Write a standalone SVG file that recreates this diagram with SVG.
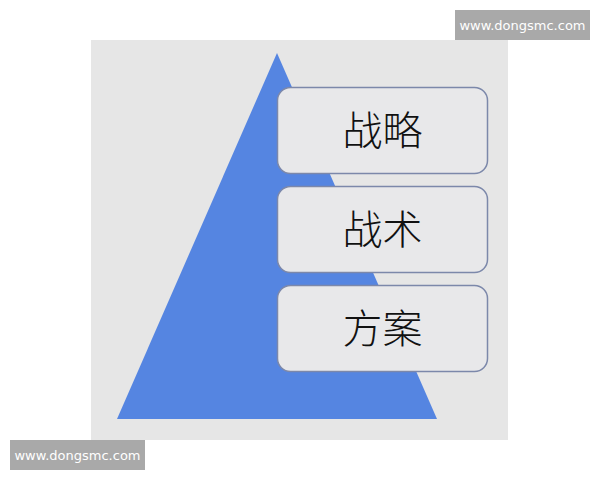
<svg xmlns="http://www.w3.org/2000/svg" width="600" height="480" viewBox="0 0 600 480">
<style>
.box{fill:#e8e8ea;stroke:#7c88aa;stroke-width:1.5}
.lbl{font-family:"Noto Sans CJK SC","Noto Sans",sans-serif;font-size:40px;fill:#111;text-anchor:middle;font-weight:300}
.wm{fill:#a9a9a9}
.wmt{font-family:"DejaVu Sans","Liberation Sans",sans-serif;font-size:13px;fill:#fff;text-anchor:middle}
</style>
<rect width="600" height="480" fill="#fff"/>
<rect x="91" y="40" width="417" height="400" fill="#e6e6e6"/>
<polygon points="277,53 117,419 437,419" fill="#5585e1"/>
<g id="node-strategy">
<rect class="box" x="277.5" y="87.5" width="210" height="86" rx="13"/>
<text class="lbl" x="382.5" y="145">战略</text>
</g>
<g id="node-tactics">
<rect class="box" x="277.5" y="186.5" width="210" height="86" rx="13"/>
<text class="lbl" x="382.5" y="244">战术</text>
</g>
<g id="node-plan">
<rect class="box" x="277.5" y="285.5" width="210" height="86" rx="13"/>
<text class="lbl" x="382.5" y="343">方案</text>
</g>
<g id="connectors"></g>
<g id="wm-top">
<rect class="wm" x="455" y="10" width="135" height="30"/>
<text class="wmt" x="522.5" y="29.5">www.dongsmc.com</text>
</g>
<g id="wm-bottom">
<rect class="wm" x="10" y="440" width="135" height="30"/>
<text class="wmt" x="77.5" y="459.5">www.dongsmc.com</text>
</g>
</svg>
